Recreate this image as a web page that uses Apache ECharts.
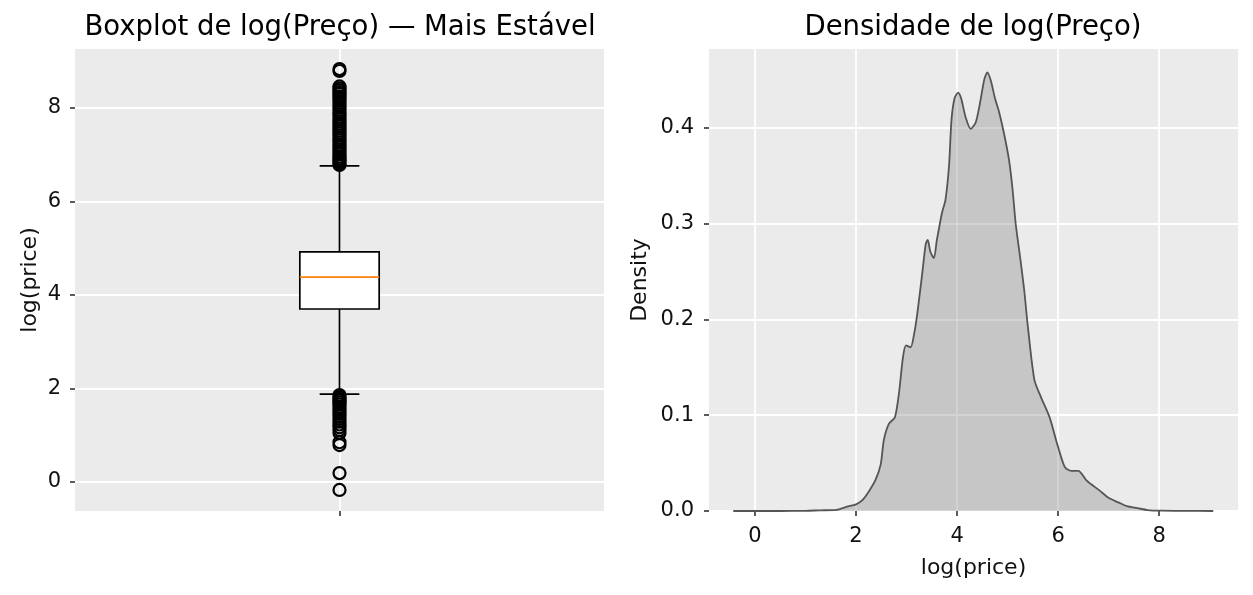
<!DOCTYPE html>
<html>
<head>
<meta charset="utf-8">
<title>Boxplot e Densidade de log(Preço)</title>
<script src="https://cdn.jsdelivr.net/npm/echarts@6/dist/echarts.min.js"></script>
<style>
  html, body { margin: 0; padding: 0; background: #fff; }
  #chart { width: 1253px; height: 595px; }
</style>
</head>
<body>
<div id="chart"></div>
<script>
// --- dados ---
var boxPos = 1;
// [bigode inferior, Q1, mediana, Q3, bigode superior]
var boxStats = [1.88, 3.70, 4.38, 4.92, 6.76];
var outliersHigh = [8.83, 8.79, 8.46, 8.42, 8.38, 8.34, 8.30, 8.25, 8.21, 8.16, 8.11, 8.06, 8.01,
  7.96, 7.91, 7.86, 7.81, 7.76, 7.71, 7.66, 7.61, 7.56, 7.51, 7.46, 7.41, 7.36, 7.31, 7.26,
  7.21, 7.16, 7.11, 7.06, 7.01, 6.96, 6.92, 6.88, 6.84, 6.80, 6.78];
var outliersLow = [1.86, 1.82, 1.78, 1.74, 1.70, 1.66, 1.61, 1.56, 1.51, 1.46, 1.41, 1.35,
  1.29, 1.23, 1.17, 1.11, 1.05, 0.85, 0.79, 0.19, -0.17];

var densityX = [-0.43, 0.5, 1.0, 1.28, 1.61, 1.82, 2.0, 2.12, 2.26, 2.39, 2.49, 2.55, 2.65, 2.77,
  2.85, 2.93, 2.99, 3.08, 3.15, 3.21, 3.31, 3.38, 3.42, 3.47, 3.54, 3.60, 3.70, 3.77, 3.84,
  3.89, 3.95, 4.02, 4.08, 4.17, 4.27, 4.37, 4.45, 4.54, 4.60, 4.67, 4.75, 4.83, 4.93, 5.03,
  5.10, 5.16, 5.26, 5.33, 5.40, 5.53, 5.66, 5.83, 5.96, 6.13, 6.26, 6.40, 6.56, 6.83, 6.99,
  7.19, 7.36, 7.57, 7.77, 8.05, 8.5, 9.07];
var densityY = [0, 0, 0.0002, 0.0007, 0.0012, 0.0045, 0.007, 0.011, 0.021, 0.033, 0.049, 0.074,
  0.091, 0.098, 0.123, 0.161, 0.173, 0.171, 0.185, 0.205, 0.248, 0.279, 0.283, 0.271, 0.264,
  0.283, 0.311, 0.325, 0.36, 0.409, 0.431, 0.437, 0.431, 0.411, 0.399, 0.406, 0.425, 0.451,
  0.458, 0.449, 0.431, 0.417, 0.394, 0.366, 0.335, 0.300, 0.26, 0.23, 0.193, 0.137, 0.119,
  0.098, 0.074, 0.046, 0.042, 0.042, 0.032, 0.021, 0.014, 0.009, 0.005, 0.003, 0.001,
  0.0003, 0.0001, 0];

var boxYTicks = [0, 2, 4, 6, 8];
var densXTicks = [0, 2, 4, 6, 8];
var densYTicks = [0, 0.1, 0.2, 0.3, 0.4];

var FONT = 'DejaVu Sans';
var BG = '#EBEBEB';

var outlierData = [];
outliersHigh.concat(outliersLow).forEach(function (v) { outlierData.push([boxPos, v]); });
var densityData = densityX.map(function (x, i) { return [x, densityY[i]]; });

function renderBox(params, api) {
  var x = api.value(0);
  var lo = api.coord([x, api.value(1)]);
  var q1 = api.coord([x, api.value(2)]);
  var md = api.coord([x, api.value(3)]);
  var q3 = api.coord([x, api.value(4)]);
  var hi = api.coord([x, api.value(5)]);
  var bw = api.size([0.15, 0])[0];
  var cx = lo[0];
  var st = { stroke: '#000', lineWidth: 1.7 };
  return {
    type: 'group',
    children: [
      { type: 'line', shape: { x1: cx, y1: q3[1], x2: cx, y2: hi[1] }, style: st },
      { type: 'line', shape: { x1: cx, y1: q1[1], x2: cx, y2: lo[1] }, style: st },
      { type: 'line', shape: { x1: cx - bw / 4, y1: hi[1], x2: cx + bw / 4, y2: hi[1] }, style: st },
      { type: 'line', shape: { x1: cx - bw / 4, y1: lo[1], x2: cx + bw / 4, y2: lo[1] }, style: st },
      { type: 'rect', shape: { x: cx - bw / 2, y: q3[1], width: bw, height: q1[1] - q3[1] },
        style: { fill: '#fff', stroke: '#000', lineWidth: 1.7 } },
      { type: 'line', shape: { x1: cx - bw / 2, y1: md[1], x2: cx + bw / 2, y2: md[1] },
        style: { stroke: '#ff7f0e', lineWidth: 1.7 } }
    ]
  };
}

function axisCommon(ticks, fmt, margin) {
  return {
    axisLine: { show: false, onZero: false },
    axisTick: { show: true, length: 5, customValues: ticks, lineStyle: { color: '#333', width: 1.6 } },
    axisLabel: { customValues: ticks, formatter: fmt, color: '#111', fontFamily: FONT, fontSize: 21, margin: margin },
    splitLine: { show: true, lineStyle: { color: '#fff', width: 1.8 } }
  };
}

var chart = echarts.init(document.getElementById('chart'));
var option = {
  animation: false,
  backgroundColor: '#fff',
  graphic: [
    { type: 'text', x: 340, y: 28, style: { text: 'Boxplot de log(Preço) — Mais Estável', fill: '#000',
      font: '27.5px "DejaVu Sans"', textAlign: 'center', textVerticalAlign: 'middle' } },
    { type: 'text', x: 973, y: 28, style: { text: 'Densidade de log(Preço)', fill: '#000',
      font: '27.5px "DejaVu Sans"', textAlign: 'center', textVerticalAlign: 'middle' } }
  ],
  grid: [
    { left: 75, top: 49, width: 529, height: 462, show: true, backgroundColor: BG, borderWidth: 0 },
    { left: 709, top: 49, width: 529, height: 462, show: true, backgroundColor: BG, borderWidth: 0 }
  ],
  xAxis: [
    Object.assign({ type: 'value', gridIndex: 0, min: 0.5, max: 1.5 },
      axisCommon([boxPos], function () { return ''; }, 15)),
    Object.assign({ type: 'value', gridIndex: 1, min: -0.91, max: 9.56,
      name: 'log(price)', nameLocation: 'middle', nameGap: 46,
      nameTextStyle: { fontFamily: FONT, fontSize: 22, color: '#111' } },
      axisCommon(densXTicks, function (v) { return String(v); }, 15))
  ],
  yAxis: [
    Object.assign({ type: 'value', gridIndex: 0, min: -0.62, max: 9.26,
      name: 'log(price)', nameLocation: 'middle', nameGap: 34,
      nameTextStyle: { fontFamily: FONT, fontSize: 22, color: '#111' } },
      axisCommon(boxYTicks, function (v) { return String(v); }, 14)),
    Object.assign({ type: 'value', gridIndex: 1, min: 0, max: 0.4825,
      name: 'Density', nameLocation: 'middle', nameGap: 58,
      nameTextStyle: { fontFamily: FONT, fontSize: 22, color: '#111' } },
      axisCommon(densYTicks, function (v) { return v.toFixed(1); }, 15))
  ],
  series: [
    {
      type: 'custom', xAxisIndex: 0, yAxisIndex: 0, z: 2,
      renderItem: renderBox,
      encode: { x: 0, y: [1, 2, 3, 4, 5] },
      data: [[boxPos].concat(boxStats)]
    },
    {
      type: 'scatter', xAxisIndex: 0, yAxisIndex: 0, z: 3,
      symbol: 'circle', symbolSize: 12,
      itemStyle: { color: 'rgba(0,0,0,0)', borderColor: '#000', borderWidth: 2.2, opacity: 1 },
      data: outlierData
    },
    {
      type: 'line', xAxisIndex: 1, yAxisIndex: 1,
      smooth: 0.25, showSymbol: false,
      lineStyle: { color: '#555', width: 1.8 },
      areaStyle: { color: 'rgba(125,125,125,0.33)', opacity: 1 },
      data: densityData
    }
  ]
};
chart.setOption(option);
</script>
</body>
</html>
